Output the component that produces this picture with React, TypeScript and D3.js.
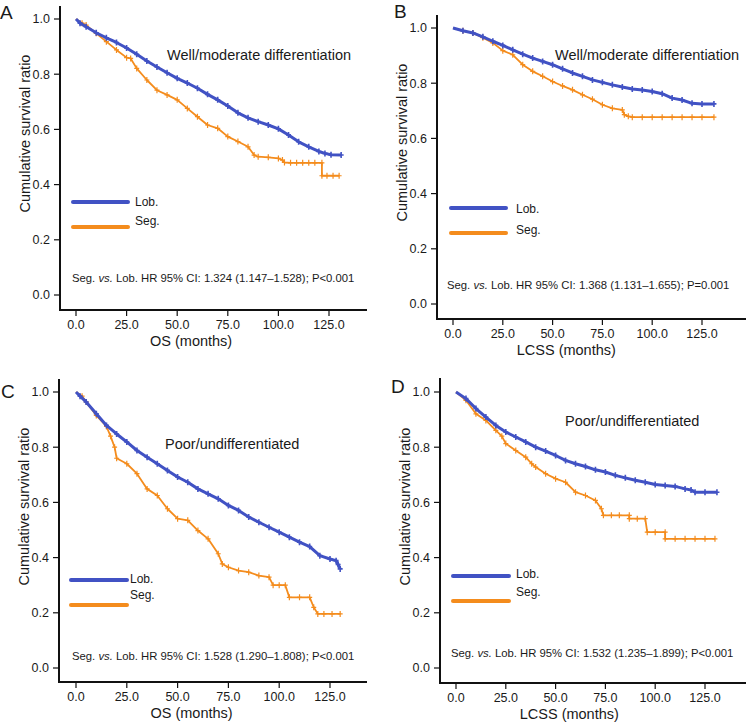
import { useEffect } from "react";
import * as d3 from "d3";

type Pt = [number, number];

const xTicks = [0, 25, 50, 75, 100, 125];
const yTicks = [0, 0.2, 0.4, 0.6, 0.8, 1.0];
const groups = ["Lob.", "Seg."];
const colors = ["#4152c4", "#f48c1d"];

// A: OS, well/moderate differentiation
const osWellLob: Pt[] = [
  [0, 1], [2, 0.985], [5, 0.972], [10, 0.95], [15, 0.932], [20, 0.915], [25, 0.895],
  [30, 0.872], [35, 0.848], [40, 0.826], [45, 0.805], [50, 0.785], [55, 0.768],
  [60, 0.749], [65, 0.727], [70, 0.707], [75, 0.685], [80, 0.66], [85, 0.642],
  [90, 0.628], [95, 0.616], [100, 0.602], [105, 0.58], [110, 0.555], [115, 0.537],
  [120, 0.52], [123, 0.513], [126, 0.508], [131, 0.507],
];
const osWellSeg: Pt[] = [
  [0, 1], [3, 0.985], [5, 0.978], [10, 0.948], [15, 0.918], [20, 0.888], [25, 0.86],
  [27, 0.857], [30, 0.821], [35, 0.779], [40, 0.742], [45, 0.725], [50, 0.707],
  [55, 0.676], [60, 0.646], [65, 0.616], [70, 0.604], [75, 0.574], [80, 0.556],
  [85, 0.537], [88, 0.507], [90, 0.501], [95, 0.499], [100, 0.495], [102, 0.489],
  [103, 0.48], [106, 0.479], [109, 0.479], [112, 0.479], [115, 0.479], [118, 0.479],
  [121.5, 0.479], [121.5, 0.432], [124, 0.432], [127, 0.432], [130, 0.432],
];

// B: LCSS, well/moderate differentiation
const lcssWellLob: Pt[] = [
  [0, 1], [5, 0.99], [10, 0.982], [15, 0.968], [20, 0.952], [25, 0.937], [30, 0.921],
  [35, 0.905], [40, 0.891], [45, 0.879], [50, 0.867], [55, 0.852], [60, 0.837],
  [65, 0.825], [70, 0.812], [75, 0.803], [80, 0.794], [85, 0.786], [90, 0.779],
  [95, 0.775], [100, 0.77], [105, 0.762], [110, 0.746], [115, 0.739], [120, 0.727],
  [125, 0.725], [131, 0.725],
];
const lcssWellSeg: Pt[] = [
  [0, 1], [5, 0.99], [10, 0.982], [15, 0.965], [20, 0.946], [25, 0.918], [30, 0.903],
  [35, 0.867], [40, 0.843], [45, 0.825], [50, 0.806], [55, 0.79], [60, 0.776],
  [65, 0.758], [70, 0.742], [75, 0.722], [80, 0.709], [85, 0.703], [86, 0.686],
  [88, 0.68], [90, 0.677], [95, 0.677], [100, 0.677], [105, 0.677], [110, 0.677],
  [115, 0.677], [120, 0.677], [125, 0.677], [131, 0.677],
];

// C: OS, poor/undifferentiated
const osPoorLob: Pt[] = [
  [0, 1], [2, 0.985], [5, 0.964], [10, 0.921], [15, 0.879], [20, 0.848], [25, 0.819],
  [30, 0.788], [35, 0.764], [40, 0.74], [45, 0.716], [50, 0.692], [55, 0.673],
  [60, 0.649], [65, 0.631], [70, 0.613], [75, 0.589], [80, 0.571], [85, 0.547],
  [90, 0.528], [95, 0.51], [100, 0.492], [105, 0.474], [110, 0.456], [115, 0.44],
  [120, 0.407], [125, 0.395], [128, 0.389], [129, 0.375], [130, 0.359],
];
const osPoorSeg: Pt[] = [
  [0, 1], [3, 0.985], [5, 0.964], [10, 0.915], [15, 0.875], [17, 0.84], [19, 0.8],
  [20, 0.76], [25, 0.74], [30, 0.704], [35, 0.649], [40, 0.625], [45, 0.577],
  [50, 0.541], [55, 0.535], [60, 0.498], [65, 0.468], [70, 0.414], [72, 0.377],
  [75, 0.365], [80, 0.353], [85, 0.347], [90, 0.335], [95, 0.329], [97, 0.3],
  [100, 0.3], [103, 0.3], [105, 0.256], [110, 0.256], [115, 0.256], [117, 0.22],
  [119, 0.196], [122, 0.196], [126, 0.196], [130, 0.196],
];

// D: LCSS, poor/undifferentiated
const lcssPoorLob: Pt[] = [
  [0, 1], [5, 0.976], [10, 0.94], [15, 0.909], [20, 0.879], [25, 0.855], [30, 0.837],
  [35, 0.819], [40, 0.8], [45, 0.786], [50, 0.77], [55, 0.752], [60, 0.74],
  [65, 0.73], [70, 0.718], [75, 0.71], [80, 0.698], [85, 0.689], [90, 0.68],
  [95, 0.673], [100, 0.665], [105, 0.661], [110, 0.658], [115, 0.649], [118, 0.645],
  [120, 0.637], [125, 0.637], [131, 0.637],
];
const lcssPoorSeg: Pt[] = [
  [0, 1], [5, 0.97], [10, 0.921], [15, 0.897], [20, 0.861], [23, 0.84], [25, 0.813],
  [30, 0.788], [35, 0.764], [38, 0.74], [40, 0.728], [45, 0.704], [50, 0.686],
  [55, 0.673], [60, 0.637], [65, 0.625], [70, 0.607], [73, 0.577], [74, 0.553],
  [78, 0.553], [82, 0.553], [87, 0.553], [87, 0.541], [91, 0.541], [95, 0.541],
  [96, 0.492], [100, 0.492], [105, 0.492], [105, 0.468], [110, 0.468], [115, 0.468],
  [120, 0.468], [125, 0.468], [130, 0.468],
];

const FONT = "'Liberation Sans', Arial, Helvetica, sans-serif";

type Panel = {
  letter: string;
  lx: number; ly: number;
  yAxisX: number; axisTop: number; axisRight: number; xAxisY: number;
  y1: number; y0: number; x0: number; x125: number;
  xTitle: string;
  subtitle: string; sx: number; sy: number;
  hr: [string, string]; hx: number; hy: number;
  leg: { x1: number; x2: number; tx: number; ly: number[]; ty: number[] };
  curves: [Pt[], Pt[]];
};

const panels: Panel[] = [
  {
    letter: "A", lx: 0, ly: 19,
    yAxisX: 60, axisTop: 6, axisRight: 367, xAxisY: 310,
    y1: 19, y0: 295, x0: 76, x125: 329,
    xTitle: "OS (months)",
    subtitle: "Well/moderate differentiation", sx: 167, sy: 60,
    hr: ["1.324 (1.147–1.528)", "P<0.001"], hx: 72, hy: 282,
    leg: { x1: 73, x2: 128, tx: 135, ly: [202, 227], ty: [206, 225] },
    curves: [osWellLob, osWellSeg],
  },
  {
    letter: "B", lx: 394, ly: 18,
    yAxisX: 437, axisTop: 15, axisRight: 746, xAxisY: 319,
    y1: 28, y0: 304, x0: 453, x125: 702,
    xTitle: "LCSS (months)",
    subtitle: "Well/moderate differentiation", sx: 555, sy: 60,
    hr: ["1.368 (1.131–1.655)", "P=0.001"], hx: 447, hy: 289,
    leg: { x1: 451, x2: 506, tx: 516, ly: [208, 233], ty: [213, 234] },
    curves: [lcssWellLob, lcssWellSeg],
  },
  {
    letter: "C", lx: 1, ly: 398,
    yAxisX: 59, axisTop: 379, axisRight: 367, xAxisY: 682,
    y1: 392, y0: 668, x0: 76, x125: 330,
    xTitle: "OS (months)",
    subtitle: "Poor/undifferentiated", sx: 165, sy: 449,
    hr: ["1.528 (1.290–1.808)", "P<0.001"], hx: 72, hy: 660,
    leg: { x1: 71, x2: 127, tx: 130, ly: [580, 605], ty: [583, 599] },
    curves: [osPoorLob, osPoorSeg],
  },
  {
    letter: "D", lx: 391, ly: 393,
    yAxisX: 440, axisTop: 378, axisRight: 746, xAxisY: 683,
    y1: 392, y0: 668, x0: 456, x125: 705,
    xTitle: "LCSS (months)",
    subtitle: "Poor/undifferentiated", sx: 565, sy: 426,
    hr: ["1.532 (1.235–1.899)", "P<0.001"], hx: 451, hy: 657,
    leg: { x1: 453, x2: 509, tx: 516, ly: [576, 601], ty: [578, 596] },
    curves: [lcssPoorLob, lcssPoorSeg],
  },
];

function KMPanel({ p }: { p: Panel }) {
  const x = d3.scaleLinear().domain([0, 125]).range([p.x0, p.x125]);
  const y = d3.scaleLinear().domain([0, 1]).range([p.y0, p.y1]);
  const line = d3
    .line<Pt>()
    .x((d) => x(d[0]))
    .y((d) => y(d[1]));

  return (
    <g fontFamily={FONT} fill="#1a1a1a">
      <text x={p.lx} y={p.ly} fontSize={19}>{p.letter}</text>

      {/* axes */}
      <line x1={p.yAxisX} x2={p.yAxisX} y1={p.axisTop} y2={p.xAxisY + 1} stroke="#111" strokeWidth={2} />
      <line x1={p.yAxisX - 1} x2={p.axisRight} y1={p.xAxisY} y2={p.xAxisY} stroke="#111" strokeWidth={2} />
      {yTicks.map((t) => (
        <g key={"y" + t}>
          <line x1={p.yAxisX - 6} x2={p.yAxisX} y1={y(t)} y2={y(t)} stroke="#111" strokeWidth={1.2} />
          <text x={p.yAxisX - 10} y={y(t)} dy="0.35em" textAnchor="end" fontSize={12.5}>
            {t.toFixed(1)}
          </text>
        </g>
      ))}
      {xTicks.map((t) => (
        <g key={"x" + t}>
          <line x1={x(t)} x2={x(t)} y1={p.xAxisY} y2={p.xAxisY + 6} stroke="#111" strokeWidth={1.2} />
          <text x={x(t)} y={p.xAxisY + 19} textAnchor="middle" fontSize={12.5}>
            {t.toFixed(1)}
          </text>
        </g>
      ))}
      <text
        x={x(125 * 0.455)}
        y={p.xAxisY + 36}
        textAnchor="middle"
        fontSize={14.5}
      >
        {p.xTitle}
      </text>
      <text
        transform={`translate(${p.yAxisX - 30},${p.y1 + 0.415 * (p.y0 - p.y1)}) rotate(-90)`}
        textAnchor="middle"
        fontSize={14.5}
      >
        Cumulative survival ratio
      </text>

      {/* curves, Lob. drawn last so it sits on top */}
      {[1, 0].map((gi) => {
        const data = p.curves[gi];
        const c = colors[gi];
        const w = gi === 0 ? 3 : 1.8;
        return (
          <g key={"c" + gi}>
            <path d={line(data) ?? ""} fill="none" stroke={c} strokeWidth={w} strokeLinejoin="round" />
            {data.slice(1).map((d, i) => (
              <path
                key={i}
                d={`M${x(d[0])},${y(d[1]) - 3}v6M${x(d[0]) - 2.5},${y(d[1])}h5`}
                stroke={c}
                strokeWidth={gi === 0 ? 1.6 : 1.2}
                fill="none"
              />
            ))}
          </g>
        );
      })}

      <text x={p.sx} y={p.sy} fontSize={14.5}>{p.subtitle}</text>

      {/* legend */}
      {groups.map((g, i) => (
        <g key={g}>
          <line
            x1={p.leg.x1}
            x2={p.leg.x2}
            y1={p.leg.ly[i]}
            y2={p.leg.ly[i]}
            stroke={colors[i]}
            strokeWidth={4}
            strokeLinecap="round"
          />
          <text x={p.leg.tx} y={p.leg.ty[i]} fontSize={12}>{g}</text>
        </g>
      ))}

      <text x={p.hx} y={p.hy} fontSize={11.3}>
        Seg. <tspan fontStyle="italic">vs.</tspan> Lob. HR 95% CI: {p.hr[0]}; {p.hr[1]}
      </text>
    </g>
  );
}

export default function App() {
  useEffect(() => {
    document.body.style.margin = "0";
    document.body.style.background = "#fff";
  }, []);

  return (
    <svg width={748} height={728} viewBox="0 0 748 728" style={{ display: "block", background: "#fff" }}>
      {panels.map((p) => (
        <KMPanel key={p.letter} p={p} />
      ))}
    </svg>
  );
}
